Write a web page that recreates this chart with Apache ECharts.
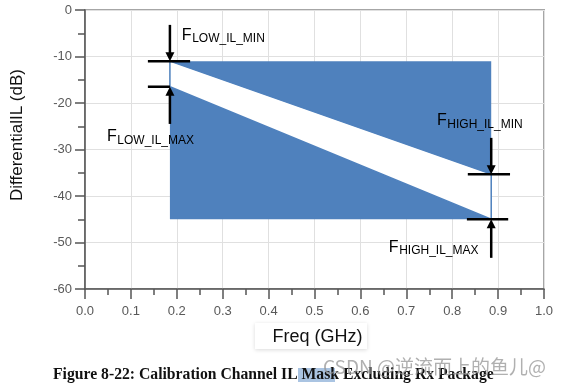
<!DOCTYPE html>
<html>
<head>
<meta charset="utf-8">
<script src="https://cdn.jsdelivr.net/npm/echarts@6/dist/echarts.min.js"></script>
<style>html,body{margin:0;padding:0;background:#fff;}#c{width:566px;height:387px;}</style>
</head>
<body>
<div id="c"></div>
<script>
// ---- data ----
const xTickValues = [0,0.1,0.2,0.3,0.4,0.5,0.6,0.7,0.8,0.9,1.0];
const yTickValues = [0,-10,-20,-30,-40,-50,-60];
const maskFreq = [0.185, 0.885];      // GHz, left/right edge of mask
const maskTop = -11;                  // dB
const maskBottom = -45;               // dB
const ilMinLine = [-11, -35.3];       // dB at maskFreq
const ilMaxLine = [-16.5, -45];       // dB at maskFreq
const annotNames = ['LOW_IL_MIN','LOW_IL_MAX','HIGH_IL_MIN','HIGH_IL_MAX'];
const annotLabelX = [0.211, 0.048, 0.767, 0.662];
const annotLabelY = [-5.4, -27.3, -23.7, -51.0];
const arrowX = [0.185, 0.185, 0.885, 0.885];
const arrowFrom = [-3.2, -24.5, -27.5, -53.3];
const arrowTo = [-11, -16.5, -35.3, -45];
const barFrom = [0.137, 0.137, 0.834, 0.832];
const barTo = [0.229, 0.185, 0.926, 0.922];

const BLUE = '#4f81bd';
const chart = echarts.init(document.getElementById('c'), null, {renderer:'canvas'});

const option = {
  animation:false,
  backgroundColor:'#fff',
  grid:{left:85,right:22,top:10,bottom:98,show:true,borderColor:'#a6a6a6',borderWidth:2,backgroundColor:'transparent'},
  xAxis:{
    type:'value',min:0,max:1,interval:0.1,
    axisLine:{show:true,onZero:false,lineStyle:{color:'#555',width:1.5}},
    axisTick:{show:true,length:10,lineStyle:{color:'#555',width:1.5}},
    minorTick:{show:true,splitNumber:2,length:6,lineStyle:{color:'#555',width:1.5}},
    splitLine:{show:true,lineStyle:{color:'#e0e0e0',width:1}},
    axisLabel:{margin:16,fontSize:13,fontFamily:'Liberation Sans, Arial',color:'#595959',
      formatter:v=>{const t=xTickValues.find(x=>Math.abs(x-v)<1e-9);return t===undefined?'':t.toFixed(1);}}
  },
  yAxis:{
    type:'value',min:-60,max:0,interval:10,
    axisLine:{show:true,onZero:false,lineStyle:{color:'#555',width:1.5}},
    axisTick:{show:true,length:10,lineStyle:{color:'#555',width:1.5}},
    minorTick:{show:true,splitNumber:2,length:7,lineStyle:{color:'#555',width:1.5}},
    splitLine:{show:true,lineStyle:{color:'#e0e0e0',width:1}},
    axisLabel:{margin:13,fontSize:13,fontFamily:'Liberation Sans, Arial',color:'#595959',
      formatter:v=>{const t=yTickValues.find(y=>Math.abs(y-v)<1e-9);return t===undefined?'':String(t);}}
  },
  series:[
    {
      type:'custom',silent:true,clip:false,z:2,
      data:[[maskFreq[0],maskTop]],
      renderItem:function(params,api){
        const p=(x,y)=>api.coord([x,y]);
        const x0=maskFreq[0],x1=maskFreq[1];
        return {type:'group',children:[
          {type:'polygon',shape:{points:[p(x0,maskTop),p(x1,maskTop),p(x1,maskBottom),p(x0,maskBottom)]},style:{fill:BLUE}},
          {type:'polygon',shape:{points:[p(x0,ilMinLine[0]),p(x1,ilMinLine[1]),p(x1,ilMaxLine[1]),p(x0,ilMaxLine[0])]},style:{fill:'#fff',stroke:BLUE,lineWidth:1.5}}
        ]};
      }
    },
    {
      type:'custom',silent:true,clip:false,z:5,
      data:annotNames.map((n,i)=>[arrowX[i],arrowTo[i]]),
      renderItem:function(params,api){
        const i=params.dataIndex;
        const p=(x,y)=>api.coord([x,y]);
        const a=p(arrowX[i],arrowFrom[i]);
        const t=p(arrowX[i],arrowTo[i]);
        const dir=t[1]>a[1]?1:-1;
        const head=9, hw=4.5;
        const b0=p(barFrom[i],arrowTo[i]), b1=p(barTo[i],arrowTo[i]);
        const lp=p(annotLabelX[i],annotLabelY[i]);
        return {type:'group',children:[
          {type:'line',shape:{x1:b0[0],y1:b0[1],x2:b1[0],y2:b1[1]},style:{stroke:'#000',lineWidth:2.5}},
          {type:'line',shape:{x1:a[0],y1:a[1],x2:t[0],y2:t[1]-dir*(head-1)},style:{stroke:'#000',lineWidth:2.5}},
          {type:'polygon',shape:{points:[[t[0],t[1]],[t[0]-hw,t[1]-dir*head],[t[0]+hw,t[1]-dir*head]]},style:{fill:'#000'}},
          {type:'text',x:lp[0],y:lp[1],style:{text:'F',fontSize:16,fontFamily:'Liberation Sans, Arial',fill:'#000',align:'left',verticalAlign:'middle'}},
          {type:'text',x:lp[0]+10.3,y:lp[1]+4,style:{text:annotNames[i],fontSize:12,fontFamily:'Liberation Sans, Arial',fill:'#000',align:'left',verticalAlign:'middle'}}
        ]};
      }
    }
  ],
  graphic:[
    {type:'text',x:17,y:135,rotation:Math.PI/2,style:{text:'DifferentialIL (dB)',fontSize:17,fontFamily:'Liberation Sans, Arial',fill:'#111',align:'center',verticalAlign:'middle'}},
    {type:'rect',shape:{x:255,y:323,width:112,height:26},style:{fill:'#fff',shadowColor:'rgba(0,0,0,0.15)',shadowBlur:4,shadowOffsetY:1},z:1},
    {type:'text',x:317.5,y:337,style:{text:'Freq (GHz)',fontSize:18,fontFamily:'Liberation Sans, Arial',fill:'#111',align:'center',verticalAlign:'middle'},z:2},
    {type:'rect',shape:{x:298,y:368,width:37,height:14},style:{fill:'#aac4e2'},z:1},
    {type:'text',x:53,y:375,style:{text:'Figure 8-22: Calibration Channel IL Mask Excluding Rx Package',fontSize:15.7,fontWeight:'bold',fontFamily:'Liberation Serif, Times New Roman',fill:'#111',align:'left',verticalAlign:'middle'},z:2},
    {type:'text',x:323,y:367,style:{text:'CSDN @逆流而上的鱼儿@',fontSize:19,fontFamily:'Noto Sans CJK SC, Noto Sans',fill:'rgba(150,150,150,0.75)',align:'left',verticalAlign:'middle'},z:3}
  ]
};
chart.setOption(option);
</script>
</body>
</html>
